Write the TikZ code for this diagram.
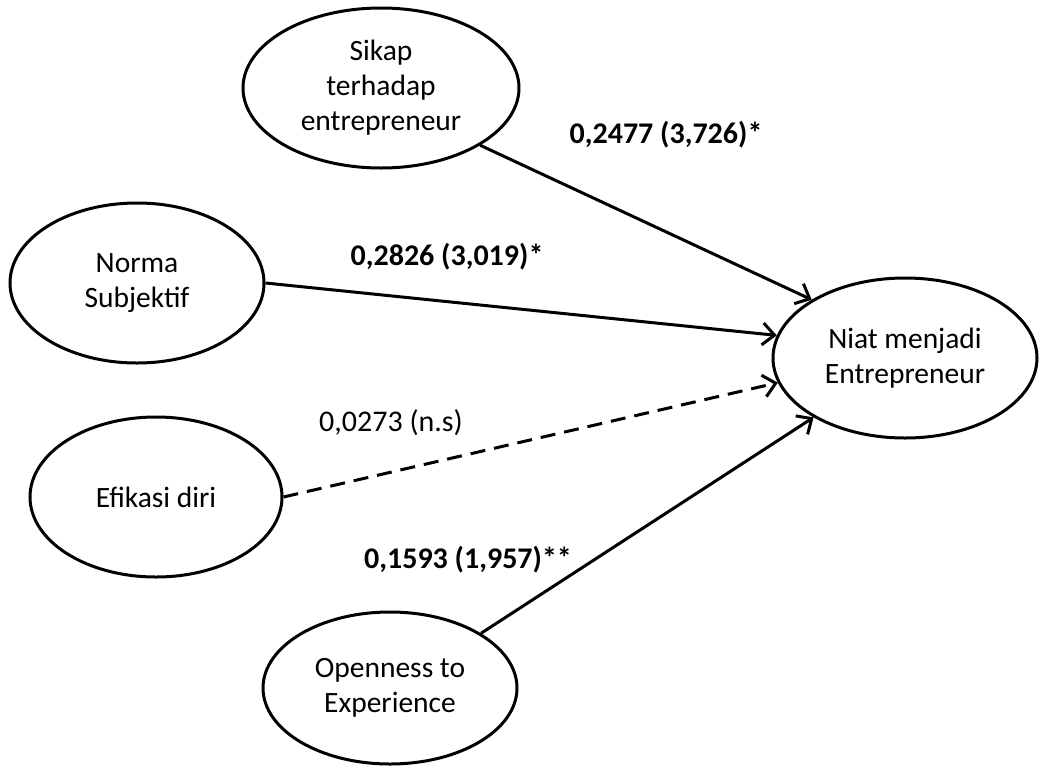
\documentclass[tikz,border=0pt]{standalone}
\usepackage{fontspec}
\setmainfont{Carlito}
\usetikzlibrary{shapes.geometric,arrows.meta}
\begin{document}
\begin{tikzpicture}[x=1pt,y=-1pt,
  construct/.style={draw,line width=3pt,ellipse,inner sep=0pt,align=center,
    font=\fontsize{29.5}{35}\selectfont},
  path/.style={line width=3pt,-{Straight Barb[length=12pt,width=22pt,line width=3pt]}},
  coef/.style={font=\fontsize{30}{35}\selectfont\bfseries,inner sep=0pt},
  coefns/.style={font=\fontsize{30}{35}\selectfont,inner sep=0pt}]
\useasboundingbox (0,0) rectangle (1039,766);
\node[construct,minimum width=276pt,minimum height=160pt] (sikap) at (381,88) {Sikap\\terhadap\\entrepreneur};
\node[construct,minimum width=254pt,minimum height=160pt] (norma) at (137,283) {Norma\\Subjektif};
\node[construct,minimum width=252pt,minimum height=160pt] (efikasi) at (156,497) {Efikasi diri};
\node[construct,minimum width=254pt,minimum height=152pt] (open) at (390,688) {Openness to\\Experience};
\node[construct,minimum width=264pt,minimum height=160pt] (niat) at (905,358) {Niat menjadi\\Entrepreneur};
\draw[path] (sikap.-30) -- (niat.148);
\draw[path] (norma.0) -- (niat.170);
\draw[path,dash pattern=on 15pt off 9pt] (efikasi.0) -- (niat.191);
\draw[path] (open.31) -- (niat.213);
\node[coef] (c1) at (666,135) {0,2477 (3,726)*};
\node[coef] (c2) at (447,257) {0,2826 (3,019)*};
\node[coefns] (c3) at (391,423) {0,0273 (n.s)};
\node[coef] (c4) at (468,560) {0,1593 (1,957)**};
\end{tikzpicture}
\end{document}
